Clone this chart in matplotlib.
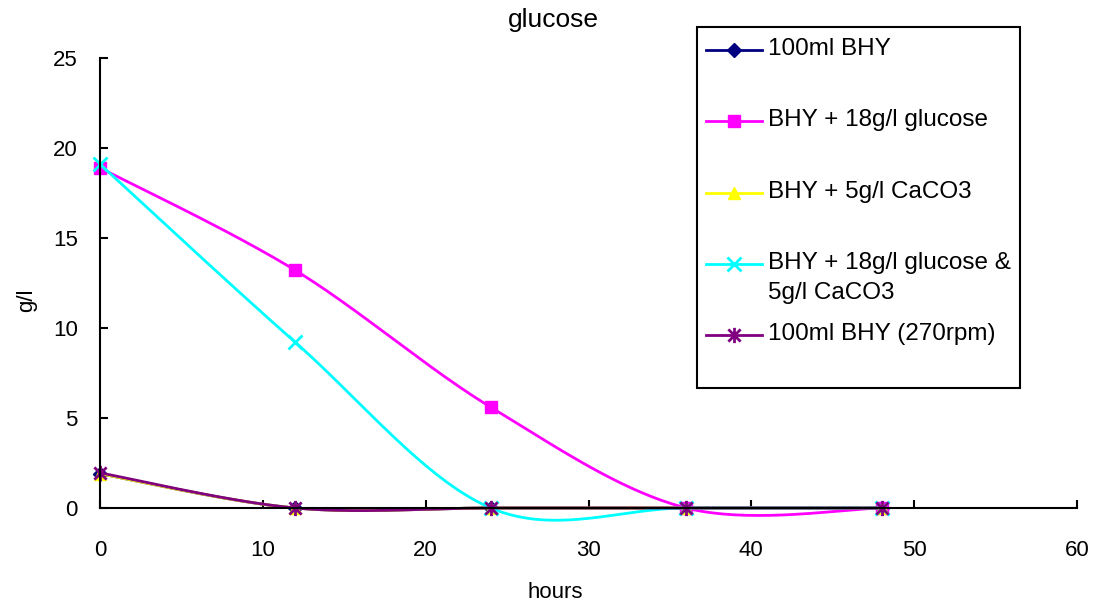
import numpy as np
import matplotlib
matplotlib.use("Agg")
from matplotlib import pyplot as plt
from matplotlib.lines import Line2D
from matplotlib.patches import Rectangle
from matplotlib.path import Path

plt.rcParams['font.family'] = ['Liberation Sans', 'DejaVu Sans']

hours = [0, 12, 24, 36, 48]
bhy_100ml = [1.9, 0, 0, 0, 0]
bhy_glucose = [18.9, 13.2, 5.6, 0, 0]
bhy_caco3 = [1.9, 0, 0, 0, 0]
bhy_glucose_caco3 = [19.1, 9.2, 0, 0, 0]
bhy_270rpm = [1.95, 0, 0, 0, 0]

labels = ["100ml BHY", "BHY + 18g/l glucose", "BHY + 5g/l CaCO3",
          "BHY + 18g/l glucose &\n5g/l CaCO3", "100ml BHY (270rpm)"]

# asterisk marker: vertical bar plus an x
star = Path([(0, -1), (0, 1), (-0.8, -0.8), (0.8, 0.8), (-0.8, 0.8), (0.8, -0.8)],
            [Path.MOVETO, Path.LINETO] * 3)

styles = [
    dict(color="#000080", marker="D", ms=7.5),
    dict(color="#FF00FF", marker="s", ms=8.5),
    dict(color="#FFFF00", marker="^", ms=9),
    dict(color="#00FFFF", marker="x", ms=10, mew=2),
    dict(color="#800080", marker=star, ms=11, mew=2),
]


def smooth(x, y, n=40):
    # bezier curve through the points, excel style "smoothed line"
    pts = np.column_stack([x, y]).astype(float)
    p = np.vstack([pts[0], pts, pts[-1]])
    t = np.linspace(0, 1, n)[:, None]
    out = []
    for i in range(1, len(p) - 2):
        p0, p1, p2, p3 = p[i - 1], p[i], p[i + 1], p[i + 2]
        c1 = p1 + (p2 - p0) / 6
        c2 = p2 - (p3 - p1) / 6
        out.append((1 - t) ** 3 * p1 + 3 * (1 - t) ** 2 * t * c1
                   + 3 * (1 - t) * t ** 2 * c2 + t ** 3 * p2)
    return np.vstack(out)


W, H = 1101, 612
fig = plt.figure(figsize=(W / 100, H / 100), dpi=100)
ax = fig.add_axes([100 / W, 1 - 508 / H, 977 / W, 450 / H])

series = [bhy_100ml, bhy_glucose, bhy_caco3, bhy_glucose_caco3, bhy_270rpm]
for vals, st in zip(series, styles):
    curve = smooth(hours, vals)
    ax.plot(curve[:, 0], curve[:, 1], color=st["color"], lw=2, clip_on=False)
    ax.plot(hours, vals, ls="none", color=st["color"], marker=st["marker"],
            ms=st["ms"], mew=st.get("mew", 1), clip_on=False)

ax.set_xlim(0, 60)
ax.set_ylim(0, 25)
ax.set_xticks(range(0, 61, 10))
ax.set_yticks(range(0, 26, 5))
for side in ["top", "right"]:
    ax.spines[side].set_visible(False)
for side in ["left", "bottom"]:
    ax.spines[side].set_linewidth(1.5)
ax.tick_params(direction="in", length=6, width=1.5, labelsize=16)
ax.tick_params(axis="x", pad=23)
ax.tick_params(axis="y", pad=16)

fig.text(553 / W, 1 - 20 / H, "glucose", ha="center", va="center", fontsize=19)
fig.text(555 / W, 1 - 593 / H, "hours", ha="center", va="center", fontsize=16)
fig.text(27 / W, 1 - 300 / H, "g/l", ha="center", va="center", fontsize=16,
         rotation=90)

# legend box drawn by hand
fig.add_artist(Rectangle((697 / W, 1 - 388 / H), 323 / W, 361 / H,
                         transform=fig.transFigure, fill=False, lw=1.5,
                         edgecolor="black"))
for i, (label, st) in enumerate(zip(labels, styles)):
    y = 1 - (50 + 71.3 * i) / H
    fig.add_artist(Line2D([706 / W, 762 / W], [y, y], transform=fig.transFigure,
                          color=st["color"], lw=2))
    fig.add_artist(Line2D([734 / W], [y], transform=fig.transFigure,
                          color=st["color"], marker=st["marker"], ms=st["ms"],
                          mew=st.get("mew", 1)))
    fig.text(768 / W, y + 12 / H, label, ha="left", va="top", fontsize=17.5,
             linespacing=1.5)

fig.savefig("out.png", dpi=100)
